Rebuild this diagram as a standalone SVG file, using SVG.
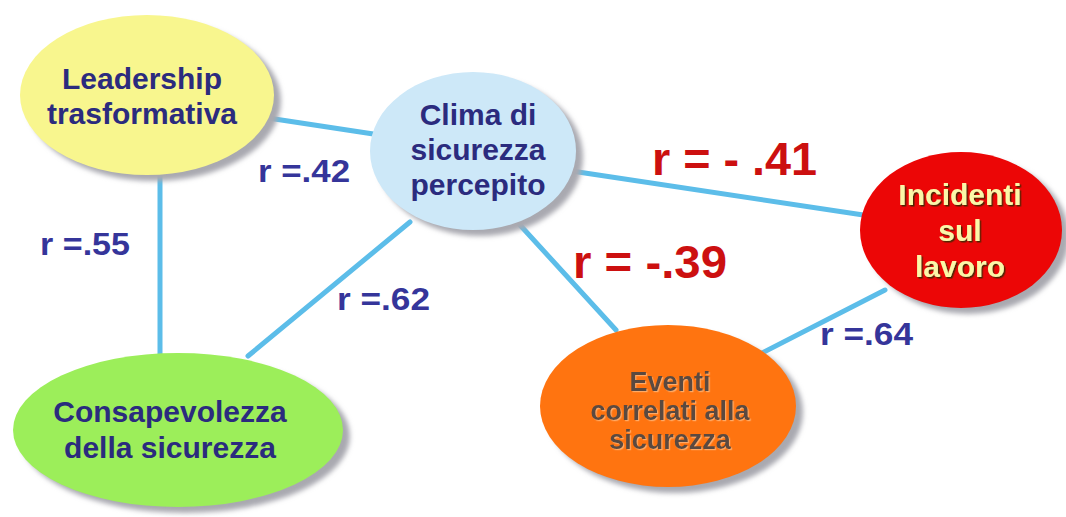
<svg xmlns="http://www.w3.org/2000/svg" width="1066" height="517" viewBox="0 0 1066 517">
<defs>
<filter id="blur" x="-20%" y="-20%" width="140%" height="140%"><feGaussianBlur stdDeviation="2.5"/></filter>
<filter id="tsh" x="-10%" y="-30%" width="120%" height="160%"><feDropShadow dx="1.5" dy="1.5" stdDeviation="0.6" flood-color="#3a2a00" flood-opacity="0.9"/></filter>
<filter id="emb" x="-10%" y="-30%" width="120%" height="160%"><feDropShadow dx="1.2" dy="1.2" stdDeviation="0.5" flood-color="#ffb070" flood-opacity="0.9"/></filter>
</defs>
<style>
.sh{fill:#a9a9b0;filter:url(#blur)}
.lbl{font-family:"Liberation Sans",Arial,sans-serif;font-weight:bold;text-anchor:middle}
.nt{font-size:30px;fill:#2b2b7e}
.r{font-family:"Liberation Sans",Arial,sans-serif;font-weight:bold;font-size:32px;fill:#35359a}
.rr{font-family:"Liberation Sans",Arial,sans-serif;font-weight:bold;font-size:46px;fill:#cc1010}
.ln{stroke:#5cbde9;stroke-width:5;fill:none;stroke-linecap:round}
</style>
<rect width="1066" height="517" fill="#ffffff"/>
<g id="connectors">
<line class="ln" x1="255" y1="116" x2="380" y2="135"/>
<line class="ln" x1="160" y1="170" x2="160" y2="358"/>
<line class="ln" x1="410" y1="222" x2="248" y2="356"/>
<line class="ln" x1="565" y1="170" x2="870" y2="216"/>
<line class="ln" x1="520" y1="225" x2="616" y2="330"/>
<line class="ln" x1="760" y1="354" x2="885" y2="290"/>
</g>
<g id="n-leadership">
<ellipse class="sh" cx="154" cy="101" rx="127" ry="80"/>
<ellipse cx="147" cy="95" rx="127" ry="80" fill="#f8f68e"/>
<text class="lbl nt" x="142" y="89">Leadership</text>
<text class="lbl nt" x="142" y="124">trasformativa</text>
</g>
<g id="n-clima">
<ellipse class="sh" cx="480" cy="157" rx="103" ry="79"/>
<ellipse cx="473" cy="151" rx="103" ry="79" fill="#cde8f8"/>
<text class="lbl nt" x="478" y="125">Clima di</text>
<text class="lbl nt" x="478" y="160">sicurezza</text>
<text class="lbl nt" x="478" y="195">percepito</text>
</g>
<g id="n-incidenti">
<ellipse class="sh" cx="968" cy="236" rx="101" ry="78"/>
<ellipse cx="961" cy="230" rx="101" ry="78" fill="#ec0606"/>
<text class="lbl" x="960" y="205" font-size="30" fill="#fbf7a8" filter="url(#tsh)">Incidenti</text>
<text class="lbl" x="960" y="241" font-size="30" fill="#fbf7a8" filter="url(#tsh)">sul</text>
<text class="lbl" x="960" y="277" font-size="30" fill="#fbf7a8" filter="url(#tsh)">lavoro</text>
</g>
<g id="n-eventi">
<ellipse class="sh" cx="675" cy="412" rx="128" ry="81"/>
<ellipse cx="668" cy="406" rx="128" ry="81" fill="#ff7410"/>
<text class="lbl" x="670" y="391" font-size="27" fill="#5a4a40" filter="url(#emb)">Eventi</text>
<text class="lbl" x="670" y="420" font-size="27" fill="#5a4a40" filter="url(#emb)">correlati alla</text>
<text class="lbl" x="670" y="449" font-size="27" fill="#5a4a40" filter="url(#emb)">sicurezza</text>
</g>
<g id="n-consapevolezza">
<ellipse class="sh" cx="185" cy="436" rx="165" ry="77"/>
<ellipse cx="178" cy="430" rx="165" ry="77" fill="#9cee5a"/>
<text class="lbl nt" x="170" y="422">Consapevolezza</text>
<text class="lbl nt" x="170" y="458">della sicurezza</text>
</g>
<g id="labels">
<text class="r" x="258" y="182" textLength="92" lengthAdjust="spacingAndGlyphs">r =.42</text>
<text class="r" x="40" y="255" textLength="90" lengthAdjust="spacingAndGlyphs">r =.55</text>
<text class="r" x="337" y="310" textLength="93" lengthAdjust="spacingAndGlyphs">r =.62</text>
<text class="r" x="820" y="345" textLength="93" lengthAdjust="spacingAndGlyphs">r =.64</text>
<text class="rr" x="652" y="175" textLength="165" lengthAdjust="spacingAndGlyphs">r = - .41</text>
<text class="rr" x="573" y="278" textLength="154" lengthAdjust="spacingAndGlyphs">r = -.39</text>
</g>
</svg>
